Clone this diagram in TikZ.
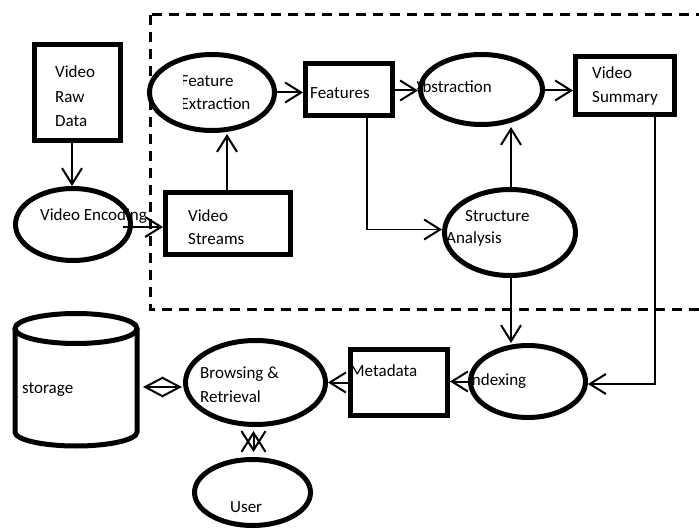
\documentclass[tikz,border=0pt]{standalone}
\usepackage{fontspec}
\setmainfont{Carlito}
\usetikzlibrary{arrows.meta,calc,shapes.geometric}
\begin{document}
\begin{tikzpicture}[x=1pt,y=-1pt,
  boxshape/.style={draw,rectangle,line width=5pt,inner sep=0},
  ellshape/.style={draw,ellipse,line width=5pt,inner sep=0},
  txt/.style={anchor=base west,inner sep=0,font=\fontsize{17}{24}\selectfont},
  arr/.style={line width=2pt,-{Straight Barb[length=16pt,width=20pt,line width=2pt]}},
  dblarr/.style={line width=2pt,{Straight Barb[length=18pt,width=19pt,line width=2pt]}-{Straight Barb[length=18pt,width=19pt,line width=2pt]}},
  crossarr/.style={line width=2pt,{Straight Barb[length=19pt,width=24pt,line width=2pt]}-{Straight Barb[length=19pt,width=24pt,line width=2pt]}},
  region/.style={line width=3pt,dash pattern=on 10pt off 7pt}]
\useasboundingbox (0,0) rectangle (699,529);
\begin{scope}
\clip (0,0) rectangle (699,529);
\draw[region] (150,15) rectangle (720,309.5);
\end{scope}
% shapes
\node[boxshape,minimum width=86pt,minimum height=96pt] (raw) at (77.5,92.5) {};
\node[ellshape,minimum width=115pt,minimum height=72pt] (venc) at (73,224.5) {};
\node[boxshape,minimum width=125pt,minimum height=62pt] (vstr) at (228,223.5) {};
\node[ellshape,minimum width=125pt,minimum height=76pt] (fext) at (212,92.5) {};
\node[boxshape,minimum width=87pt,minimum height=52pt] (feat) at (349,89.5) {};
\node[ellshape,minimum width=122pt,minimum height=70pt] (abst) at (481.5,89.5) {};
\node[boxshape,minimum width=99pt,minimum height=58pt] (vsum) at (625,85.5) {};
\node[ellshape,minimum width=131pt,minimum height=86pt] (stru) at (510,232.5) {};
\node[ellshape,minimum width=115pt,minimum height=72pt] (indx) at (528,381.5) {};
\node[boxshape,minimum width=97pt,minimum height=66pt] (meta) at (399,382.5) {};
\node[ellshape,minimum width=140pt,minimum height=84pt] (brow) at (255.5,382.5) {};
\node[ellshape,minimum width=116pt,minimum height=66pt] (user) at (252.5,492.5) {};
% storage cylinder
\node[inner sep=0,minimum width=126pt,minimum height=136pt] (stor) at (76,380) {};
\draw[line width=5pt] (76,328.5) ellipse [x radius=61pt,y radius=15pt];
\draw[line width=5pt,line join=round] (15,328.5) -- (15,432) arc[start angle=180,end angle=360,x radius=61pt,y radius=14pt] -- (137,328.5);
% texts
\node[txt] (t1) at (55,78) {Video};
\node[txt] (t2) at (55,103) {Raw};
\node[txt] (t3) at (55,127) {Data};
\node[txt] (t4) at (40,221) {Video Encoding};
\node[txt] (t5) at (188,222) {Video};
\node[txt] (t6) at (188,245) {Streams};
\begin{scope}
\clip (183.5,60) rectangle (290,125);
\node[txt] (t7) at (180.5,87) {Feature};
\node[txt] (t8) at (180.5,110) {Extraction};
\end{scope}
\node[txt] (t9) at (310,99) {Features};
\begin{scope}
\clip (417,60) rectangle (540,120);
\node[txt] (t10) at (412.5,93) {Abstraction};
\end{scope}
\node[txt] (t11) at (592,79) {Video};
\node[txt] (t12) at (592,103) {Summary};
\node[txt] (t13) at (465,222) {Structure};
\begin{scope}
\clip (447.5,225) rectangle (560,260);
\node[txt] (t14) at (446,244) {Analysis};
\end{scope}
\begin{scope}
\clip (471,360) rectangle (580,400);
\node[txt] (t15) at (467.5,385) {Indexing};
\end{scope}
\begin{scope}
\clip (353,355) rectangle (447,400);
\node[txt] (t16) at (350,377) {Metadata};
\end{scope}
\node[txt] (t17) at (22,393) {storage};
\node[txt] (t18) at (200,378) {Browsing \&};
\node[txt] (t19) at (200,402) {Retrieval};
\node[txt] (t20) at (230,512) {User};
% connectors
\coordinate (rs) at (72,143);
\draw[arr] (rs) -- (rs |- venc.north);
\coordinate (ve1) at (123,227);
\draw[arr] (ve1) -- (ve1 -| vstr.west);
\coordinate (vs1) at (227,190);
\draw[arr] (vs1) -- (227,134);
\draw[arr] (fext.east) -- (fext.east -| feat.west);
\draw[arr] ([yshift=-1pt]feat.east) -- ([yshift=-1pt]feat.east -| abst.west);
\draw[arr] ([yshift=-1pt]abst.east) -- ([yshift=-1pt]abst.east -| vsum.west);
\coordinate (fs) at (367,117);
\draw[arr,line width=1.8pt] (fs) |- (442,229.5);
\coordinate (sn) at (511,187);
\draw[arr] (sn) -- (511,127);
\coordinate (vss) at (655,117);
\draw[arr,line width=1.8pt] (vss) |- (588,384);
\coordinate (ss) at (511,278);
\draw[arr] (ss) -- (511,343);
\draw[arr] (indx.west) -- (indx.west -| meta.east);
\draw[arr] (meta.west) -- (meta.west -| brow.east);
\coordinate (st1) at (143,387);
\draw[dblarr] (st1) -- (182,387);
\coordinate (bu1) at (253.5,431);
\draw[crossarr] (bu1) -- (bu1 |- 0,452);
\end{tikzpicture}
\end{document}
